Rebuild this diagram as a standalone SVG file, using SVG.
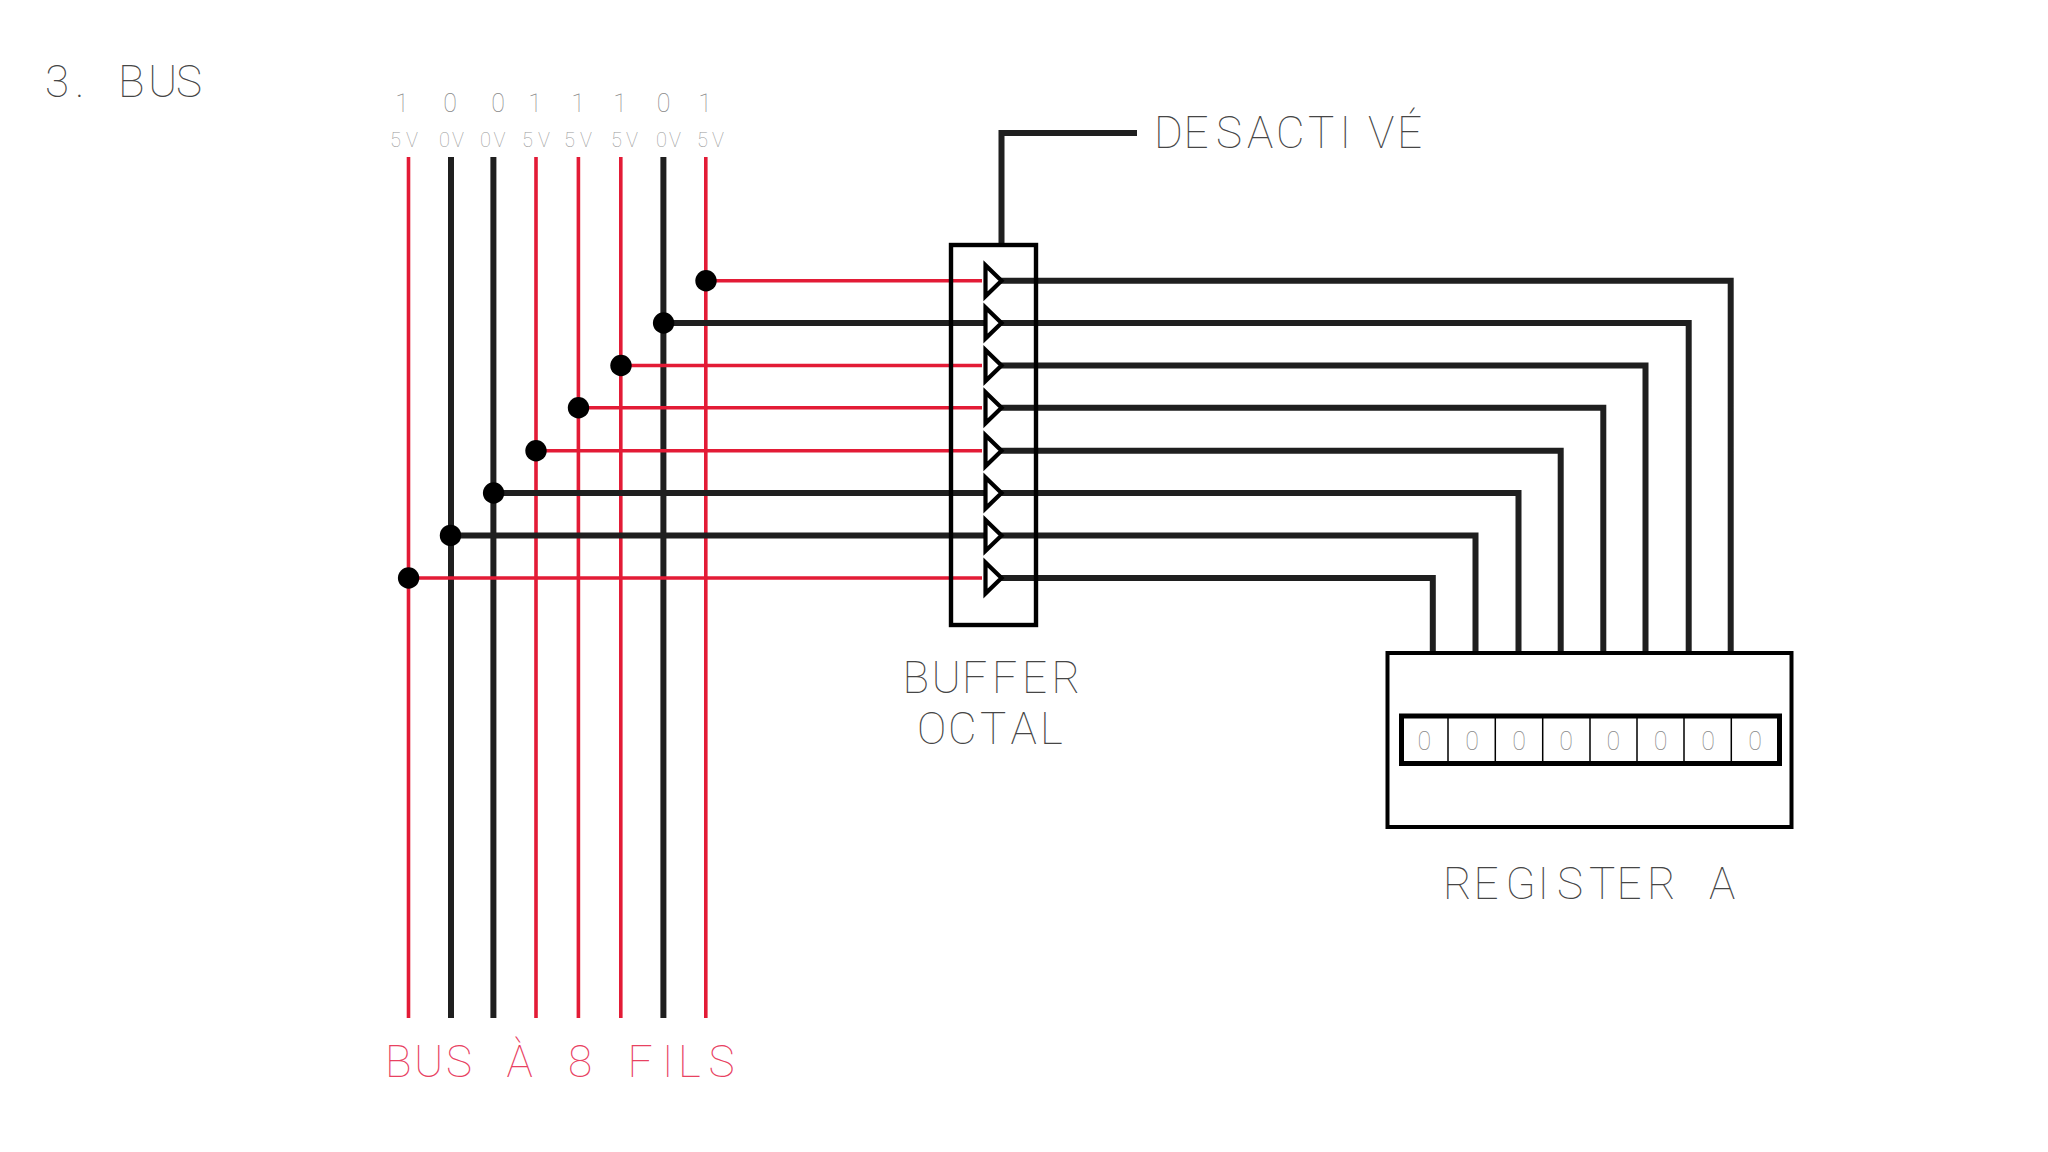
<svg xmlns="http://www.w3.org/2000/svg" width="2048" height="1152" viewBox="0 0 2048 1152">
<style>
.r{stroke:#e31b36;stroke-width:3.6;fill:none}
.k{stroke:#1f1f1f;stroke-width:6;fill:none}
.b{stroke:#000;fill:none}
.d{fill:#000}
text{font-family:"Roboto","Inter","Liberation Sans",sans-serif;font-weight:100;opacity:.99}
.big{font-size:44px;fill:#444}
.pk{font-size:44px;fill:#e8405f}
.dg{font-size:25px;fill:#888;text-anchor:middle}
.v{font-size:20px;fill:#999}
</style>
<rect width="2048" height="1152" fill="#fff"/>
<g id="connectors">
<g id="bus">
<path class="r" d="M408.500 157V1018M536 157V1018M578.400 157V1018M620.800 157V1018M705.800 157V1018"/>
<path class="k" d="M451 157V1018M493.400 157V1018M663.400 157V1018"/>
</g>
<g id="inputs">
<path class="r" d="M706 280.700H982M621 365.500H982M578.500 407.800H982M536 450.700H982M408.600 578H982"/>
<path class="k" d="M663.600 323H986M493.600 493H986M451.300 535.400H986"/>
</g>
<g id="outputs">
<path class="k" d="M1000 280.700H1730.700V652M1000 323H1688.700V652M1000 365.500H1645.500V652M1000 407.800H1603.300V652M1000 450.700H1560.700V652M1000 493H1518.500V652M1000 535.400H1475.500V652M1000 578H1432.800V652"/>
</g>
<path id="enable" class="k" d="M1137 133H1001.500V245"/>
</g>
<g id="junctions">
<circle class="d" cx="706" cy="280.700" r="10.700"/>
<circle class="d" cx="663.600" cy="323" r="10.700"/>
<circle class="d" cx="621" cy="365.500" r="10.700"/>
<circle class="d" cx="578.500" cy="407.800" r="10.700"/>
<circle class="d" cx="536" cy="450.700" r="10.700"/>
<circle class="d" cx="493.600" cy="493" r="10.700"/>
<circle class="d" cx="450.500" cy="535.400" r="10.700"/>
<circle class="d" cx="408.600" cy="578" r="10.700"/>
</g>
<g id="buffer">
<rect class="b" stroke-width="4.400" x="951" y="245" width="85" height="380"/>
<g fill="#fff" stroke="#000" stroke-width="4.200">
<path d="M985.500 265.200V296.200L1001.500 280.700Z"/>
<path d="M985.500 307.500V338.500L1001.500 323Z"/>
<path d="M985.500 350V381L1001.500 365.500Z"/>
<path d="M985.500 392.300V423.300L1001.500 407.800Z"/>
<path d="M985.500 435.200V466.200L1001.500 450.700Z"/>
<path d="M985.500 477.500V508.500L1001.500 493Z"/>
<path d="M985.500 519.900V550.900L1001.500 535.400Z"/>
<path d="M985.500 562.500V593.500L1001.500 578Z"/>
</g>
<text class="big" y="693" x="902.500 931.500 962 992 1022 1051.500">BUFFER</text>
<text class="big" y="744" x="917 948 980 1010.500 1040">OCTAL</text>
</g>
<g id="register">
<rect class="b" stroke-width="4" x="1387.500" y="653" width="404" height="174"/>
<rect class="b" stroke-width="5" x="1401.500" y="716" width="378" height="47.500"/>
<path class="b" stroke-width="1.500" d="M1448 716V763M1495.300 716V763M1542.700 716V763M1590 716V763M1637 716V763M1684 716V763M1731.300 716V763"/>
<text x="1424.300" y="750" class="dg">0</text>
<text x="1472" y="750" class="dg">0</text>
<text x="1519" y="750" class="dg">0</text>
<text x="1566" y="750" class="dg">0</text>
<text x="1613.300" y="750" class="dg">0</text>
<text x="1660.700" y="750" class="dg">0</text>
<text x="1708" y="750" class="dg">0</text>
<text x="1755" y="750" class="dg">0</text>
<text class="big" y="899" x="1443 1473.500 1505.500 1537.500 1557 1589 1616.500 1647 1690 1709">REGISTER A</text>
</g>
<g id="labels">
<text class="big" y="97" x="45 75 100 118 148 176">3. BUS</text>
<text class="big" y="148" x="1154 1183.500 1216 1247 1276 1308 1339.500 1368 1397">DESACTIVÉ</text>
<text class="pk" y="1077" x="385 414 446 480 506.500 545 568 600 627.500 662 678 708.500">BUS À 8 FILS</text>
<text class="dg" x="402" y="112">1</text>
<text class="dg" x="450" y="112">0</text>
<text class="dg" x="498" y="112">0</text>
<text class="dg" x="535" y="112">1</text>
<text class="dg" x="578" y="112">1</text>
<text class="dg" x="620" y="112">1</text>
<text class="dg" x="663.600" y="112">0</text>
<text class="dg" x="705" y="112">1</text>
<text class="v" x="390" y="147" textLength="28" lengthAdjust="spacing">5V</text>
<text class="v" x="439" y="147" textLength="25" lengthAdjust="spacing">0V</text>
<text class="v" x="480" y="147" textLength="25.500" lengthAdjust="spacing">0V</text>
<text class="v" x="522" y="147" textLength="28" lengthAdjust="spacing">5V</text>
<text class="v" x="564" y="147" textLength="28" lengthAdjust="spacing">5V</text>
<text class="v" x="611" y="147" textLength="27" lengthAdjust="spacing">5V</text>
<text class="v" x="656" y="147" textLength="25" lengthAdjust="spacing">0V</text>
<text class="v" x="697" y="147" textLength="27" lengthAdjust="spacing">5V</text>
</g>
</svg>
